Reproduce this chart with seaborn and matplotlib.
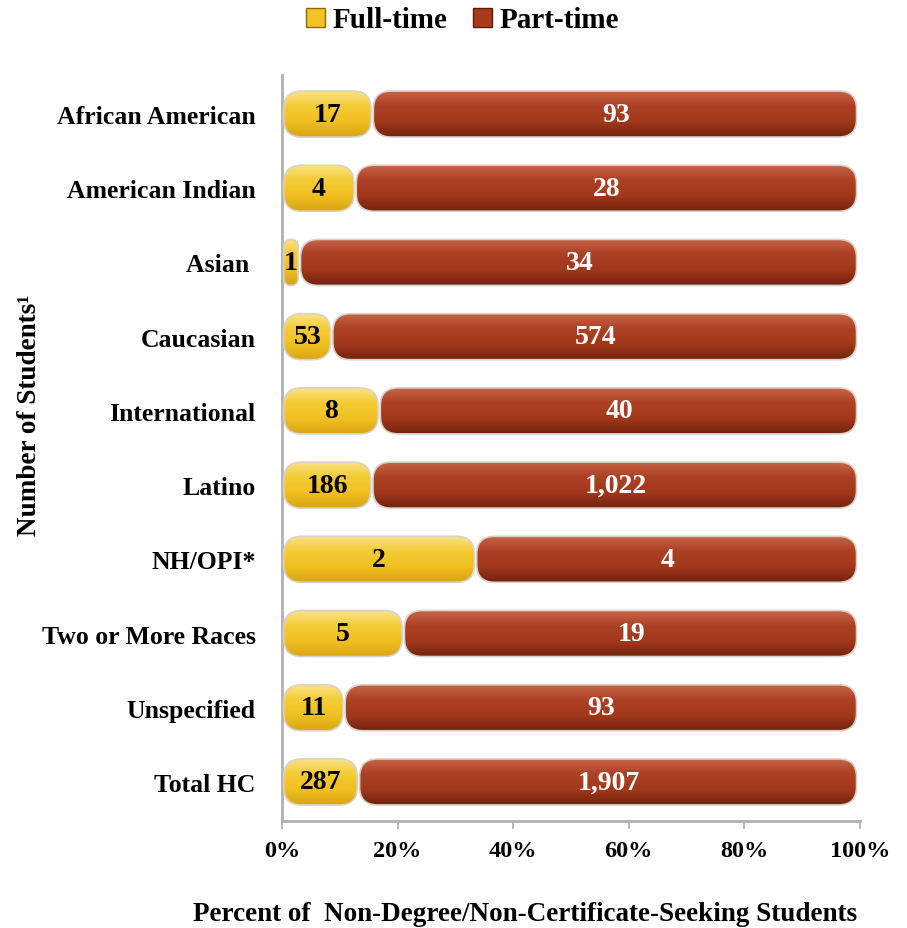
import seaborn as sns
import matplotlib.pyplot as plt
import pandas as pd
import numpy as np
from matplotlib.patches import FancyBboxPatch, Patch
from matplotlib.colors import LinearSegmentedColormap

categories = [
    "African American", "American Indian", "Asian ", "Caucasian", "International",
    "Latino", "NH/OPI*", "Two or More Races", "Unspecified", "Total HC",
]
full_time = [17, 4, 1, 53, 8, 186, 2, 5, 11, 287]
part_time = [93, 28, 34, 574, 40, 1022, 4, 19, 93, 1907]
x_ticks = [0, 20, 40, 60, 80, 100]

df = pd.DataFrame({"cat": categories, "full": full_time, "part": part_time})
df["full_pct"] = 100 * df["full"] / (df["full"] + df["part"])
df["total_pct"] = 100.0

sns.set_theme(style="white")
plt.rcParams["font.family"] = ["Liberation Serif", "DejaVu Serif"]
plt.rcParams["font.weight"] = "bold"
plt.rcParams["text.color"] = "black"
plt.rcParams["xtick.color"] = "black"
plt.rcParams["ytick.color"] = "black"

YELLOW = "#F2C423"
RED = "#A63A1D"
yel_cmap = LinearSegmentedColormap.from_list("y", ["#FAE38A", "#F4CC35", "#F0C020", "#D9A514"])
red_cmap = LinearSegmentedColormap.from_list("r", ["#C9654A", "#AC4024", "#A2381B", "#74230F"])
grad = np.linspace(0, 1, 64).reshape(-1, 1)

fig = plt.figure(figsize=(9.07, 9.29), dpi=100)
ax = fig.add_axes([0.3109, 0.1152, 0.6373, 0.803])

bar_h = 0.62
sns.barplot(data=df, x="total_pct", y="cat", color=RED, width=bar_h, ax=ax,
            saturation=1, orient="h")
n = len(df)
sns.barplot(data=df, x="full_pct", y="cat", color=YELLOW, width=bar_h, ax=ax,
            saturation=1, orient="h")

# replace the plain rectangles with rounded glossy "pill" bars
patches = list(ax.patches)
red_p, yel_p = patches[:n], patches[n:]
px_per_x = 578 / 100.0
px_per_y = 746 / 10.052
aspect = px_per_x / px_per_y
gap = 0.35
for i in range(n):
    yp, rp = yel_p[i], red_p[i]
    y0, h = yp.get_y(), yp.get_height()
    fw = yp.get_width()
    segs = [
        (0.3, fw - gap, yel_cmap),
        (fw + gap, rp.get_width() - 0.6 - fw - gap, red_cmap),
    ]
    yp.remove()
    rp.remove()
    for left, w, cmap in segs:
        r = min(3.1, w / 2)
        pill = FancyBboxPatch((left, y0), w, h,
                              boxstyle=f"round,pad=0,rounding_size={r}",
                              mutation_aspect=aspect, fc="none", ec="#D8D2C8",
                              lw=1.2, zorder=3)
        ax.add_patch(pill)
        im = ax.imshow(grad, extent=(left, left + w, y0 + h, y0), aspect="auto",
                       cmap=cmap, interpolation="bicubic", zorder=2)
        im.set_clip_path(pill)
    ax.text(fw / 2 + 0.15, i, str(full_time[i]), ha="center", va="center",
            fontsize=20, fontweight="bold", color="black", zorder=4)
    ax.text((fw + 100) / 2, i, f"{part_time[i]:,}", ha="center", va="center",
            fontsize=20, fontweight="bold", color="white", zorder=4)

ax.set_xlim(0, 100)
ax.set_ylim(9.526, -0.526)
ax.set_xticks(x_ticks)
ax.set_xticklabels([f"{t}%" for t in x_ticks], fontsize=17.5, fontweight="bold")
ax.tick_params(axis="x", bottom=True, length=6, color="#B0B0B0", pad=8)
ax.tick_params(axis="y", left=False, pad=13, labelsize=18.5)
for lab in ax.get_yticklabels():
    lab.set_fontweight("bold")
ax.set_xlabel("")
ax.set_ylabel("")
for side in ["top", "right"]:
    ax.spines[side].set_visible(False)
for side in ["left", "bottom"]:
    ax.spines[side].set_color("#B0B0B0")
    ax.spines[side].set_linewidth(2)

fig.text(0.579, 1 - 915 / 929, "Percent of  Non-Degree/Non-Certificate-Seeking Students",
         ha="center", va="center", fontsize=19.5, fontweight="bold")
fig.text(30 / 907, 1 - 415 / 929, "Number of Students\u00b9", rotation=90,
         ha="center", va="center", fontsize=19.5, fontweight="bold")

handles = [Patch(fc=YELLOW, ec="#8A6A00", label="Full-time"),
           Patch(fc=RED, ec="#5A1A08", label="Part-time")]
fig.legend(handles=handles, loc="center", bbox_to_anchor=(0.51, 1 - 21 / 929), ncol=2,
           frameon=False, prop={"size": 21, "weight": "bold"}, handlelength=0.65,
           handleheight=0.65, handletextpad=0.25, columnspacing=0.9)

fig.savefig("out.png", dpi=100, facecolor="white")
